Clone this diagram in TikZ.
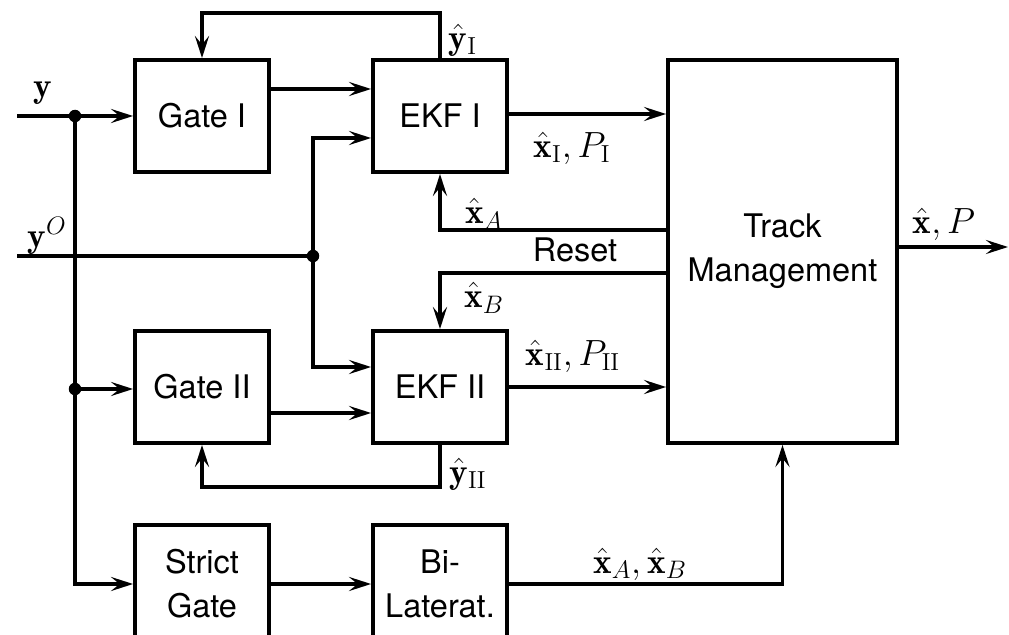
\documentclass[tikz,border=0pt]{standalone}
\usepackage{fontspec}
\setsansfont{TeX Gyre Heros}
\usetikzlibrary{arrows.meta,calc}
\begin{document}
\begin{tikzpicture}[x=0.02cm,y=-0.02cm,
  line width=2.2pt,
  blk/.style={draw,rectangle,minimum width=2.68cm,minimum height=2.24cm,inner sep=0pt,align=center,
    font=\sffamily\fontsize{18.5}{25}\selectfont},
  arr/.style={-{Stealth[length=0.44cm,width=0.28cm,inset=0.17cm]}},
  lbl/.style={inner sep=0pt,font=\fontsize{20}{24}\selectfont},
  txt/.style={inner sep=0pt,font=\sffamily\fontsize{18.5}{25}\selectfont},
  dot/.style={circle,fill,inner sep=0pt,minimum size=0.25cm}]
\useasboundingbox (0,0) rectangle (1009,635);
\clip (0,0) rectangle (1009,635);
% blocks
\node[blk] (GI) at (202,116) {Gate I};
\node[blk] (EI) at (440,116) {EKF I};
\node[blk] (GII) at (202,387) {Gate II};
\node[blk] (EII) at (440,387) {EKF II};
\node[blk,minimum height=2.36cm] (SG) at (202,584) {Strict\\Gate};
\node[blk,minimum height=2.36cm] (BL) at (440,584) {Bi-\\Laterat.};
\node[draw,rectangle,minimum width=4.58cm,minimum height=7.66cm,inner sep=0pt,align=center,
  font=\sffamily\fontsize{18.5}{25}\selectfont] (TM) at (782.5,251.5) {Track\\Management};
% coordinates
\coordinate (yin) at (17,116);
\coordinate (j1) at (75,116);
\coordinate (yOin) at (17,256);
\coordinate (j2) at (313,256);
\coordinate (j3) at (75,389);
\coordinate (out) at (1008,247);
\coordinate (eIo) at ($(EI.east)+(0,-2)$);
% inputs
\draw (yin) -- (j1);
\draw[arr] (j1) -- (GI.west);
\draw[arr] (j1) |- (SG.west);
\draw[arr] (j3) -- (j3 -| GII.west);
\draw (yOin) -- (j2);
\draw[arr] (j2) |- ($(EI.west)+(0,22)$);
\draw[arr] (j2) |- ($(EII.west)+(0,-20)$);
\node[dot] at (j1) {};
\node[dot] at (j2) {};
\node[dot] at (j3) {};
% gate to ekf
\draw[arr] ($(GI.east)+(0,-27)$) -- ($(EI.west)+(0,-27)$);
\draw[arr] ($(GII.east)+(0,26)$) -- ($(EII.west)+(0,26)$);
% feedback
\draw[arr] (EI.north) -- ++(0,-45) -| (GI.north);
\draw[arr] (EII.south) -- ++(0,42) -| (GII.south);
% ekf to tm
\draw[arr] (eIo) -- (eIo -| TM.west);
\draw[arr] (EII.east) -- (EII.east -| TM.west);
% reset
\draw[arr] ($(TM.west)+(0,-21.5)$) -| (EI.south);
\draw[arr] ($(TM.west)+(0,21.5)$) -| (EII.north);
% bottom
\draw[arr] (SG) -- (BL);
\draw[arr] (BL.east) -| (TM.south);
% output
\draw[arr] ($(TM.east)+(0,-4.5)$) -- (out);
% labels
\node[lbl] (ly) at (43,93) {$\mathbf{y}$};
\node[lbl] (lyO) at (47,236) {$\mathbf{y}^{O}$};
\node[lbl] (lyI) at (463,40) {$\hat{\mathbf{y}}_{\mathrm{I}}$};
\node[lbl] (lxI) at (572,148) {$\hat{\mathbf{x}}_{\mathrm{I}}, P_{\mathrm{I}}$};
\node[lbl] (lxA) at (484,214) {$\hat{\mathbf{x}}_{A}$};
\node[txt] (lreset) at (575,250) {Reset};
\node[lbl] (lxB) at (484,298) {$\hat{\mathbf{x}}_{B}$};
\node[lbl] (lxII) at (573,356) {$\hat{\mathbf{x}}_{\mathrm{II}}, P_{\mathrm{II}}$};
\node[lbl] (lyII) at (468,474) {$\hat{\mathbf{y}}_{\mathrm{II}}$};
\node[lbl] (lxAB) at (640,564) {$\hat{\mathbf{x}}_{A}, \hat{\mathbf{x}}_{B}$};
\node[lbl] (lxP) at (944,224) {$\hat{\mathbf{x}}, P$};
\end{tikzpicture}
\end{document}
